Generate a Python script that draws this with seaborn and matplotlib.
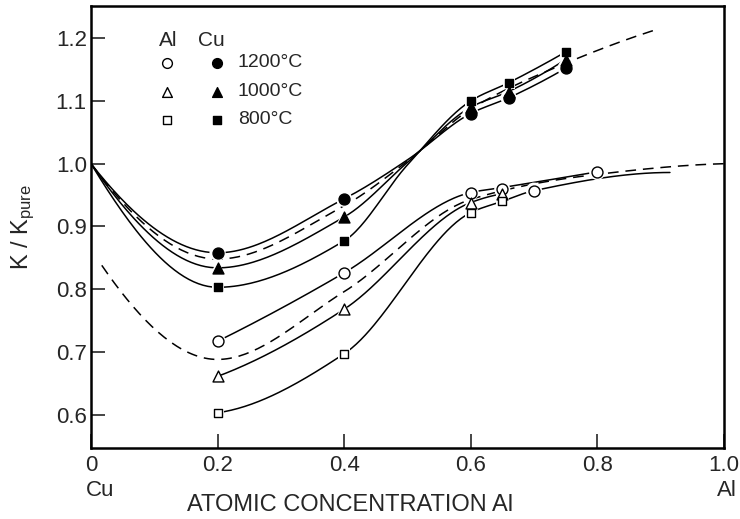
import numpy as np
import pandas as pd
import matplotlib
matplotlib.use("Agg")
import matplotlib.pyplot as plt
import seaborn as sns

# ---------------- data ----------------
cu_x = [0.2, 0.4, 0.6, 0.66, 0.75]
cu_1200 = [0.858, 0.944, 1.080, 1.105, 1.152]
cu_1000 = [0.834, 0.915, 1.090, 1.115, 1.166]
cu_800 = [0.803, 0.877, 1.100, 1.129, 1.178]

al_1200_x = [0.2, 0.4, 0.6, 0.65, 0.7, 0.8]
al_1200 = [0.717, 0.826, 0.954, 0.959, 0.957, 0.987]
al_x = [0.2, 0.4, 0.6, 0.65]
al_1000 = [0.661, 0.768, 0.938, 0.952]
al_800 = [0.603, 0.697, 0.922, 0.940]

# hand-drawn curves (knots)
cu_1200_curve_x = [0.0, 0.2, 0.4, 0.5, 0.6, 0.66, 0.75]
cu_1200_curve_y = [1.0, 0.858, 0.944, 1.006, 1.080, 1.105, 1.152]
cu_1000_curve_x = [0.0, 0.2, 0.4, 0.5, 0.6, 0.66, 0.75]
cu_1000_curve_y = [1.0, 0.834, 0.915, 1.002, 1.090, 1.115, 1.166]
cu_800_curve_x = [0.0, 0.2, 0.4, 0.5, 0.6, 0.66, 0.75]
cu_800_curve_y = [1.0, 0.803, 0.877, 0.998, 1.100, 1.129, 1.178]
al_1200_curve_x = [0.2, 0.4, 0.6, 0.65, 0.8]
al_1200_curve_y = [0.717, 0.826, 0.954, 0.962, 0.987]
al_800_tail_x = [0.7, 0.915]
al_800_tail_y = [0.957, 0.986]
dash_cu_x = [0.0, 0.2, 0.4, 0.5, 0.6, 0.75, 0.888]
dash_cu_y = [1.0, 0.848, 0.933, 1.004, 1.087, 1.160, 1.212]
dash_al_x = [0.017, 0.2, 0.4, 0.6, 0.8, 1.0]
dash_al_y = [0.838, 0.688, 0.796, 0.943, 0.983, 1.0]

x_ticks = [0, 0.2, 0.4, 0.6, 0.8, 1.0]
x_tick_labels = ["0", "0.2", "0.4", "0.6", "0.8", "1.0"]
y_ticks = [0.6, 0.7, 0.8, 0.9, 1.0, 1.1, 1.2]
y_tick_labels = ["0.6", "0.7", "0.8", "0.9", "1.0", "1.1", "1.2"]
temps = ["1200°C", "1000°C", "800°C"]


def pchip(x, y, n=200):
    x = np.asarray(x, float)
    y = np.asarray(y, float)
    h = np.diff(x)
    d = np.diff(y) / h
    m = np.zeros_like(x)
    for k in range(1, len(x) - 1):
        if d[k - 1] * d[k] <= 0:
            m[k] = 0.0
        else:
            w1 = 2 * h[k] + h[k - 1]
            w2 = h[k] + 2 * h[k - 1]
            m[k] = (w1 + w2) / (w1 / d[k - 1] + w2 / d[k])

    def end(h0, h1, d0, d1):
        s = ((2 * h0 + h1) * d0 - h0 * d1) / (h0 + h1)
        if np.sign(s) != np.sign(d0):
            s = 0.0
        elif np.sign(d0) != np.sign(d1) and abs(s) > abs(3 * d0):
            s = 3 * d0
        return s

    m[0] = end(h[0], h[1], d[0], d[1])
    m[-1] = end(h[-1], h[-2], d[-1], d[-2])
    xs = np.linspace(x[0], x[-1], n)
    idx = np.clip(np.searchsorted(x, xs) - 1, 0, len(x) - 2)
    t = (xs - x[idx]) / h[idx]
    h00 = 2 * t**3 - 3 * t**2 + 1
    h10 = t**3 - 2 * t**2 + t
    h01 = -2 * t**3 + 3 * t**2
    h11 = t**3 - t**2
    ys = h00 * y[idx] + h10 * h[idx] * m[idx] + h01 * y[idx + 1] + h11 * h[idx] * m[idx + 1]
    return xs, ys


sns.set_style("ticks")
plt.rcParams["font.family"] = ["Liberation Sans", "DejaVu Sans"]
plt.rcParams["mathtext.fontset"] = "custom"
plt.rcParams["mathtext.rm"] = "Liberation Sans"
plt.rcParams["mathtext.it"] = "Liberation Sans"

fig = plt.figure(figsize=(7.40, 5.19), dpi=100)
ax = fig.add_axes([0.123, 0.137, 0.855, 0.851])

solid = dict(color="black", lw=1.1, zorder=2)
dashed = dict(color="black", lw=1.1, zorder=2, linestyle=(0, (7, 4.5)))

curves = [
    (cu_1200_curve_x, cu_1200_curve_y, solid),
    (cu_1000_curve_x, cu_1000_curve_y, solid),
    (cu_800_curve_x, cu_800_curve_y, solid),
    (al_1200_curve_x, al_1200_curve_y, solid),
    (al_x, al_1000, solid),
    (al_x + al_800_tail_x, al_800 + al_800_tail_y, solid),
    (dash_cu_x, dash_cu_y, dashed),
    (dash_al_x, dash_al_y, dashed),
]
for cx, cy, st in curves:
    xs, ys = pchip(cx, cy)
    sns.lineplot(x=xs, y=ys, ax=ax, sort=False, estimator=None, **st)

series = [
    (cu_x, cu_1200, "o", 62, "black"),
    (cu_x, cu_1000, "^", 62, "black"),
    (cu_x, cu_800, "s", 34, "black"),
    (al_1200_x, al_1200, "o", 62, "white"),
    (al_x, al_1000, "^", 62, "white"),
    (al_x, al_800, "s", 34, "white"),
]
for sx, sy, mk, s, fc in series:
    df = pd.DataFrame({"x": sx, "y": sy})
    sns.scatterplot(data=df, x="x", y="y", ax=ax, marker=mk, s=s * 2.2,
                    color="white", edgecolor="none", zorder=3, legend=False)
for sx, sy, mk, s, fc in series:
    df = pd.DataFrame({"x": sx, "y": sy})
    sns.scatterplot(data=df, x="x", y="y", ax=ax, marker=mk, s=s,
                    facecolor=fc, edgecolor="black", linewidth=1.0, zorder=4, legend=False)

# legend block
leg_rows = [1.161, 1.115, 1.070]
leg_marks = [("o", 62), ("^", 62), ("s", 34)]
ax.text(0.122, 1.197, "Al", ha="center", va="center", fontsize=15)
ax.text(0.190, 1.197, "Cu", ha="center", va="center", fontsize=15)
for yy, (mk, s), lab in zip(leg_rows, leg_marks, temps):
    ax.scatter([0.120], [yy], marker=mk, s=s * 0.8, facecolor="white", edgecolor="black", lw=1.0, zorder=4)
    ax.scatter([0.199], [yy], marker=mk, s=s * 0.8, facecolor="black", edgecolor="black", lw=1.0, zorder=4)
    ax.text(0.232, yy, lab, ha="left", va="center", fontsize=14)

ax.set_xlim(0, 1.0)
ax.set_ylim(0.547, 1.251)
ax.set_xticks(x_ticks)
ax.set_xticklabels(x_tick_labels)
ax.set_yticks(y_ticks)
ax.set_yticklabels(y_tick_labels)
ax.tick_params(direction="in", length=10, width=1.2, labelsize=16, pad=5)
ax.tick_params(axis="y", pad=3)
for sp in ax.spines.values():
    sp.set_linewidth(1.8)
    sp.set_color("black")

ax.set_xlabel("ATOMIC CONCENTRATION Al", fontsize=17)
ax.xaxis.set_label_coords(0.409, -0.104)
ax.set_ylabel(r"K / K$_{\mathrm{pure}}$", fontsize=17)
ax.yaxis.set_label_coords(-0.085, 0.5)

ax.text(0.014, -0.097, "Cu", transform=ax.get_xaxis_transform(), ha="center", va="center", fontsize=16)
ax.text(1.005, -0.097, "Al", transform=ax.get_xaxis_transform(), ha="center", va="center", fontsize=16)

fig.savefig("out.png", dpi=100, facecolor="white")
